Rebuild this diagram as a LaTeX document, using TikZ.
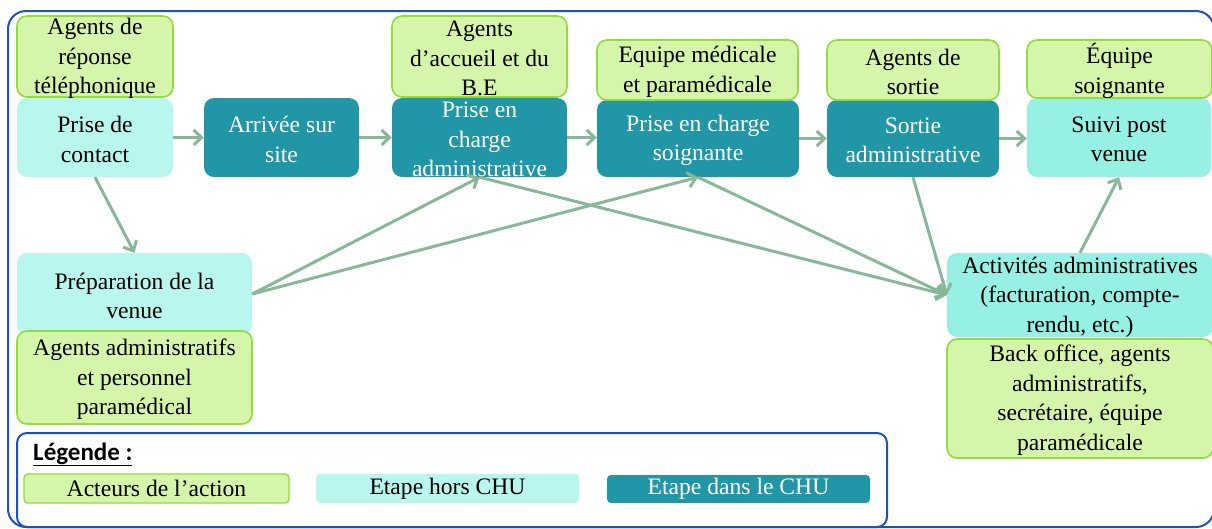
\documentclass[tikz,border=0pt]{standalone}
\usepackage{fontspec}
\setmainfont{Liberation Serif}
\newfontfamily\legfont{Carlito}
\usetikzlibrary{arrows.meta}
\definecolor{actfill}{HTML}{D5F5AA}
\definecolor{actdraw}{HTML}{92DC3C}
\definecolor{outfill}{HTML}{B8F6EE}
\definecolor{outfillb}{HTML}{96F0E4}
\definecolor{infill}{HTML}{2096A6}
\definecolor{arrowcol}{HTML}{88B898}
\definecolor{framecol}{HTML}{1E50BE}
\newcommand\bt[2]{\parbox[c][0pt][c]{#1pt}{\vspace*{10pt}\centering #2\par}}
\tikzset{
  box/.style={rounded corners=10pt, inner sep=0pt, font=\fontsize{23.6}{29.5}\selectfont},
  actor/.style={box, fill=actfill, draw=actdraw, line width=1.6pt},
  outstep/.style={box, fill=outfill},
  outstepb/.style={box, fill=outfillb},
  instep/.style={box, fill=infill, text=white},
  legbox/.style={rounded corners=4pt},
  arr/.style={draw=arrowcol, line width=3pt, -{Straight Barb[length=8pt,width=15pt]}},
  frame/.style={draw=framecol, line width=2pt}
}
\begin{document}
\begin{tikzpicture}[x=1pt,y=-1pt]
\useasboundingbox (0,0) rectangle (1212,528);
\begin{scope}
\clip (0,0) rectangle (1212,528);
\draw[frame, rounded corners=18pt] (8,11) rectangle (1214,527);
\end{scope}
% steps
\node[outstep, minimum width=156pt, minimum height=79pt] (sa) at (95,137.5) {\bt{150}{Prise de\\contact}};
\node[instep, minimum width=155pt, minimum height=79pt] (sb) at (281.5,137.5) {\bt{150}{Arrivée sur\\site}};
\node[instep, minimum width=175pt, minimum height=79pt] (sc) at (479.5,137.5) {\bt{170}{Prise en\\charge\\administrative}};
\node[instep, minimum width=202pt, minimum height=77pt] (sd) at (698,138.5) {\bt{196}{Prise en charge\\soignante}};
\node[instep, minimum width=172pt, minimum height=77pt] (se) at (913,138.5) {\bt{168}{Sortie\\administrative}};
\node[outstepb, minimum width=184pt, minimum height=79pt] (sf) at (1119,137.5) {\bt{180}{Suivi post\\venue}};
\node[outstep, minimum width=235pt, minimum height=82pt] (sg) at (134.5,294) {\bt{230}{Préparation de la\\venue}};
\node[outstepb, minimum width=266pt, minimum height=84pt] (sh) at (1080,295) {\bt{262}{Activités administratives\\(facturation, compte-\\rendu, etc.)}};
% actors
\node[actor, minimum width=156pt, minimum height=81pt] (ga) at (95,56.5) {\bt{150}{Agents de\\réponse\\téléphonique}};
\node[actor, minimum width=175pt, minimum height=81pt] (gb) at (479.5,56.5) {\bt{170}{Agents\\d’accueil et du\\B.E}};
\node[actor, minimum width=201pt, minimum height=60pt] (gc) at (697.5,70) {\bt{196}{Equipe médicale\\et paramédicale}};
\node[actor, minimum width=172pt, minimum height=60pt] (gd) at (913,70) {\bt{168}{Agents de\\sortie}};
\node[actor, minimum width=185pt, minimum height=58pt] (ge) at (1119.5,69) {\bt{180}{Équipe\\soignante}};
\node[actor, minimum width=235pt, minimum height=93pt] (gf) at (134.5,377.5) {\bt{230}{Agents administratifs\\et personnel\\paramédical}};
\node[actor, minimum width=266pt, minimum height=119pt] (gg) at (1080,398.5) {\bt{262}{Back office, agents\\administratifs,\\secrétaire, équipe\\paramédicale}};
% arrows
\draw[arr] (sa.east) -- (sb.west);
\draw[arr] (sb.east) -- (sc.west);
\draw[arr] (sc.east) -- (sd.west |- sc.east);
\draw[arr] (sd.east) -- (se.west);
\draw[arr] (se.east) -- (sf.west |- se.east);
\draw[arr] (sa.south) -- (sg.north);
\draw[arr] (sg.east) -- (sc.south);
\draw[arr] (sg.east) -- (sd.south);
\draw[arr] (sc.south) -- (sh.west);
\draw[arr] (sd.south) -- (sh.west);
\draw[arr] (se.south) -- (sh.west);
\draw[arr] (sh.north) -- (sf.south);
% legend
\draw[frame, rounded corners=10pt] (17,433) rectangle (887,527);
\node[anchor=base west, inner sep=0pt, font=\legfont\bfseries\fontsize{25}{29}\selectfont] (leg) at (33,460) {\underline{Légende :}};
\node[actor, legbox, line width=1.4pt, minimum width=265pt, minimum height=29pt] (la) at (156.5,488.5) {Acteurs de l’action};
\node[outstep, legbox, minimum width=263pt, minimum height=29pt] (lb) at (447.5,488.5) {Etape hors CHU};
\node[instep, legbox, minimum width=263pt, minimum height=28pt] (lc) at (738.5,489) {Etape dans le CHU};
\end{tikzpicture}
\end{document}
